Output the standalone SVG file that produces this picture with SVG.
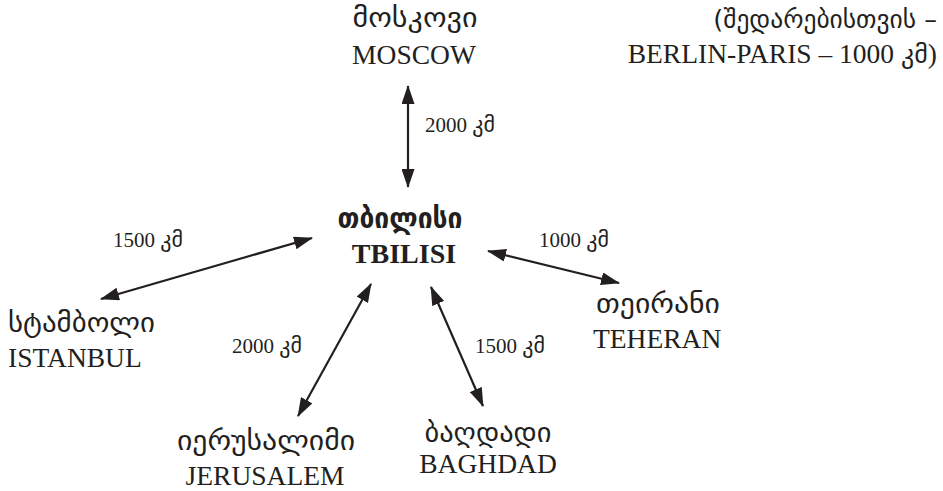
<svg xmlns="http://www.w3.org/2000/svg" width="943" height="491" viewBox="0 0 943 491">
<style>
.lat{font-family:"Liberation Serif","DejaVu Sans",serif;font-size:27.5px;fill:#231f20}
.geo{font-family:"DejaVu Sans","Liberation Sans",sans-serif;font-size:28px;fill:#231f20}
.dist{font-family:"Liberation Serif","DejaVu Sans",serif;font-size:21px;fill:#231f20}
.k{font-family:"DejaVu Sans",sans-serif;font-size:22px}
.b{font-weight:bold}
.c{text-anchor:middle}
.r{text-anchor:end}
.arr{stroke:#231f20;stroke-width:2.2;fill:none;marker-start:url(#ah);marker-end:url(#ah)}
</style>
<defs>
<marker id="ah" markerUnits="userSpaceOnUse" viewBox="0 0 19 13" refX="18" refY="6.5" markerWidth="19" markerHeight="13" orient="auto-start-reverse">
<path d="M0,0 L19,6.5 L0,13 z" fill="#231f20"/>
</marker>
</defs>
<rect width="943" height="491" fill="#fff"/>
<g id="connectors">
<line class="arr" x1="408" y1="86" x2="408" y2="187"/>
<line class="arr" x1="101" y1="299" x2="312" y2="238"/>
<line class="arr" x1="371" y1="284" x2="298" y2="416"/>
<line class="arr" x1="431" y1="287" x2="483" y2="406"/>
<line class="arr" x1="488" y1="251" x2="619" y2="283"/>
</g>
<g id="moscow">
<text class="geo c" x="415" y="27" textLength="125" lengthAdjust="spacingAndGlyphs">მოსკოვი</text>
<text class="lat c" x="414" y="64">MOSCOW</text>
</g>
<g id="note">
<text class="geo r" x="937" y="28" style="font-size:25.5px">(შედარებისთვის –</text>
<text class="lat r" x="937" y="63">BERLIN-PARIS – 1000 <tspan class="k" style="font-size:26px">კმ</tspan>)</text>
</g>
<g id="tbilisi">
<text class="geo c b" x="400" y="228" textLength="125" lengthAdjust="spacingAndGlyphs">თბილისი</text>
<text class="lat c b" x="404" y="263" style="font-size:28px">TBILISI</text>
</g>
<g id="istanbul">
<text class="geo" x="8" y="332" textLength="147" lengthAdjust="spacingAndGlyphs">სტამბოლი</text>
<text class="lat" x="8" y="367">ISTANBUL</text>
</g>
<g id="tehran">
<text class="geo" x="596" y="313" textLength="124" lengthAdjust="spacingAndGlyphs">თეირანი</text>
<text class="lat" x="593" y="348">TEHERAN</text>
</g>
<g id="jerusalem">
<text class="geo c" x="266" y="450" textLength="178" lengthAdjust="spacingAndGlyphs">იერუსალიმი</text>
<text class="lat c" x="265" y="485">JERUSALEM</text>
</g>
<g id="baghdad">
<text class="geo c" x="488" y="442" textLength="127" lengthAdjust="spacingAndGlyphs">ბაღდადი</text>
<text class="lat c" x="488" y="473">BAGHDAD</text>
</g>
<g id="labels">
<text class="dist" x="425" y="132">2000 <tspan class="k">კმ</tspan></text>
<text class="dist" x="113" y="247">1500 <tspan class="k">კმ</tspan></text>
<text class="dist" x="539" y="247">1000 <tspan class="k">კმ</tspan></text>
<text class="dist" x="232" y="353">2000 <tspan class="k">კმ</tspan></text>
<text class="dist" x="475" y="353">1500 <tspan class="k">კმ</tspan></text>
</g>
</svg>
